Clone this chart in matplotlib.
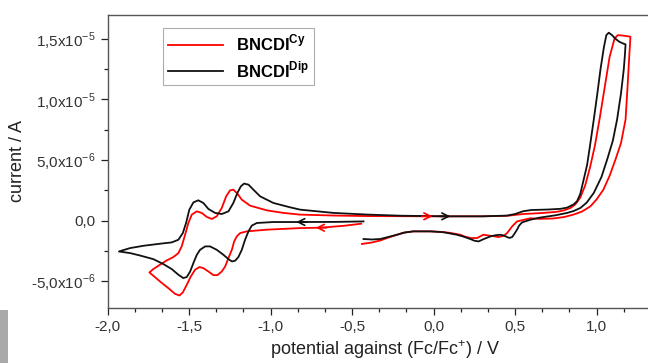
import numpy as np
import matplotlib
matplotlib.use("Agg")
import matplotlib.pyplot as plt
from matplotlib.patches import Rectangle
from matplotlib.ticker import MultipleLocator, FixedLocator, FixedFormatter, FuncFormatter

plt.rcParams['font.family'] = ['Liberation Sans', 'DejaVu Sans']
plt.rcParams['mathtext.fontset'] = 'custom'
plt.rcParams['mathtext.rm'] = 'Liberation Sans'

# BNCDI^Cy : one continuous scan, potential in V, current in uA
# start -0.45 V -> -1.75 V -> +1.2 V -> back to -0.45 V
cy_E = [-0.445, -0.55, -0.696, -0.819, -1.023, -1.146, -1.187, -1.208, -1.224, -1.238,
        -1.259, -1.279, -1.300, -1.327, -1.351, -1.382, -1.413, -1.437, -1.464, -1.490,
        -1.515, -1.539, -1.560, -1.587, -1.628, -1.679, -1.720, -1.744,
        -1.720, -1.679, -1.638, -1.597, -1.566, -1.546, -1.525, -1.505, -1.484, -1.453,
        -1.423, -1.392, -1.361, -1.331, -1.300, -1.273, -1.249, -1.229, -1.204, -1.177,
        -1.126, -1.023, -0.921, -0.819, -0.60, -0.40, 0.0, 0.30, 0.45, 0.55, 0.65, 0.75,
        0.80, 0.84, 0.87, 0.90, 0.93, 0.96, 0.99, 1.02, 1.05, 1.08, 1.11, 1.13, 1.17,
        1.208, 1.205, 1.202, 1.19, 1.178, 1.15, 1.116, 1.08, 1.042, 1.00, 0.962, 0.91,
        0.858, 0.80, 0.735, 0.65, 0.594, 0.512, 0.482, 0.451, 0.43, 0.397, 0.37, 0.348,
        0.305, 0.285, 0.267, 0.225, 0.19, 0.164, 0.10, 0.04, -0.020, -0.125, -0.18,
        -0.225, -0.28, -0.327, -0.38, -0.440]
cy_I = [-0.25, -0.42, -0.58, -0.61, -0.74, -0.88, -1.02, -1.30, -1.71, -2.40,
        -3.08, -3.77, -4.19, -4.49, -4.49, -4.19, -3.91, -3.82, -4.05, -4.60,
        -5.29, -5.92, -6.17, -6.03, -5.56, -5.01, -4.54, -4.27,
        -3.99, -3.63, -3.28, -3.00, -2.67, -2.12, -1.16, -0.19, 0.50, 0.77,
        0.64, 0.31, 0.14, 0.36, 1.05, 2.01, 2.50, 2.56, 2.23, 1.73,
        1.24, 0.85, 0.64, 0.50, 0.42, 0.38, 0.36, 0.36, 0.40, 0.55, 0.62, 0.72,
        0.85, 1.05, 1.35, 1.90, 2.90, 4.40, 6.20, 8.50, 11.0, 13.5, 15.0, 15.3, 15.25,
        15.17, 14.5, 13.88, 11.0, 8.34, 6.40, 5.04, 3.70, 2.56, 1.75, 1.18, 0.75,
        0.50, 0.30, 0.18, 0.15, 0.20, -0.06, -0.47, -1.02, -1.25, -1.35, -1.28, -1.24,
        -1.16, -1.30, -1.43, -1.43, -1.30, -1.16, -1.00, -0.92, -0.88, -0.88, -0.98,
        -1.16, -1.40, -1.63, -1.80, -1.92]

# BNCDI^Dip
dip_E = [-0.430, -0.60, -0.819, -0.983, -1.085, -1.116, -1.136, -1.157, -1.177, -1.198,
         -1.218, -1.238, -1.259, -1.290, -1.331, -1.372, -1.402, -1.433, -1.453, -1.474,
         -1.494, -1.515, -1.536, -1.566, -1.607, -1.658, -1.720, -1.802, -1.863, -1.931,
         -1.863, -1.781, -1.679, -1.607, -1.566, -1.539, -1.519, -1.499, -1.474, -1.444,
         -1.413, -1.382, -1.341, -1.300, -1.259, -1.229, -1.204, -1.183, -1.163, -1.136,
         -1.106, -1.065, -0.983, -0.880, -0.819, -0.614, -0.40, -0.20, 0.08, 0.30, 0.45,
         0.50, 0.55, 0.60, 0.70, 0.78, 0.82, 0.86, 0.88, 0.90, 0.921, 0.942, 0.96, 0.983,
         1.005, 1.024, 1.045, 1.06, 1.075, 1.095, 1.116, 1.14, 1.165, 1.178,
         1.173, 1.167, 1.15, 1.126, 1.10, 1.065, 1.03, 0.983, 0.94, 0.901, 0.86, 0.819,
         0.75, 0.65, 0.594, 0.543, 0.525, 0.512, 0.495, 0.482, 0.465, 0.451, 0.43, 0.410,
         0.38, 0.348, 0.31, 0.276, 0.25, 0.225, 0.18, 0.143, 0.06, -0.020, -0.123, -0.18,
         -0.225, -0.28, -0.327, -0.38, -0.430]
dip_I = [-0.06, -0.10, -0.11, -0.11, -0.19, -0.41, -0.88, -1.57, -2.40, -3.00,
         -3.30, -3.36, -3.17, -2.81, -2.40, -2.12, -2.12, -2.40, -2.81, -3.49,
         -4.19, -4.65, -4.73, -4.46, -3.99, -3.58, -3.17, -2.87, -2.67, -2.54,
         -2.26, -2.07, -1.90, -1.79, -1.57, -1.02, -0.19, 0.91, 1.51, 1.68,
         1.46, 0.97, 0.64, 0.55, 0.77, 1.46, 2.29, 2.83, 3.06, 2.97,
         2.56, 2.01, 1.46, 1.10, 0.91, 0.64, 0.50, 0.41, 0.36, 0.36, 0.42,
         0.55, 0.78, 0.88, 0.92, 0.98, 1.08, 1.35, 1.60, 2.20, 3.39, 4.60, 6.20, 8.34,
         10.5, 12.47, 14.3, 15.3, 15.5, 15.3, 15.0, 14.75, 14.6, 14.54,
         13.5, 12.47, 10.5, 8.34, 6.60, 5.04, 3.60, 2.29, 1.50, 1.05, 0.80, 0.64,
         0.45, 0.25, 0.08, -0.14, -0.40, -0.74, -1.10, -1.35, -1.42, -1.35, -1.22, -1.16,
         -1.20, -1.30, -1.50, -1.71, -1.65, -1.51, -1.30, -1.16, -0.95, -0.88, -0.88, -0.98,
         -1.16, -1.35, -1.51, -1.55, -1.51]

# potentials where the scan-direction arrows sit: [cathodic start, forward scan]
cy_arrow_x = [-0.70, -0.03]
dip_arrow_x = [-0.82, 0.08]

ytick_vals = [-5e-6, 0.0, 5e-6, 1e-5, 1.5e-5]
ytick_labels = [r"-5,0x10$^{\mathregular{-6}}$", "0,0", r"5,0x10$^{\mathregular{-6}}$",
                r"1,0x10$^{\mathregular{-5}}$", r"1,5x10$^{\mathregular{-5}}$"]


def add_arrows(ax, E, I, xs, color):
    E = np.asarray(E)
    I = np.asarray(I) * 1e-6
    # first arrow on the opening (cathodic) part, pointing left
    e, i = E[:5][::-1], I[:5][::-1]
    y0 = np.interp(xs[0], e, i)
    ax.annotate("", xy=(xs[0] - 0.04, y0), xytext=(xs[0] + 0.06, y0),
                arrowprops=dict(arrowstyle="->", color=color, lw=1.2, mutation_scale=12))
    # second arrow on the forward (anodic) flat part, pointing right
    k = np.argmax(E)
    fwd = slice(None, k)
    mask = (E[fwd] > -1.0) & (np.arange(k) > np.argmin(E))
    e, i = E[fwd][mask], I[fwd][mask]
    y1 = np.interp(xs[1], e, i)
    ax.annotate("", xy=(xs[1] + 0.04, y1), xytext=(xs[1] - 0.06, y1),
                arrowprops=dict(arrowstyle="->", color=color, lw=1.2, mutation_scale=12))


fig = plt.figure(figsize=(6.48, 3.63), dpi=100)
ax = fig.add_axes([0.1662, 0.1515, 0.855, 0.8085])

ax.plot(np.array(cy_E), np.array(cy_I) * 1e-6, color="#ff0000", lw=1.3,
        label=r"BNCDI$^{\mathregular{Cy}}$", solid_joinstyle="round")
ax.plot(np.array(dip_E), np.array(dip_I) * 1e-6, color="#111111", lw=1.3,
        label=r"BNCDI$^{\mathregular{Dip}}$", solid_joinstyle="round")
add_arrows(ax, cy_E, cy_I, cy_arrow_x, "#ff0000")
add_arrows(ax, dip_E, dip_I, dip_arrow_x, "#111111")

ax.set_xlim(-2.0, 1.4)
ax.set_ylim(-7.2e-6, 1.7e-5)

ax.xaxis.set_major_locator(MultipleLocator(0.5))
ax.xaxis.set_minor_locator(MultipleLocator(0.5 / 3))
ax.xaxis.set_major_formatter(FuncFormatter(lambda v, p: ("%.1f" % v).replace(".", ",")))
ax.yaxis.set_major_locator(FixedLocator(ytick_vals))
ax.yaxis.set_major_formatter(FixedFormatter(ytick_labels))
ax.yaxis.set_minor_locator(MultipleLocator(2.5e-6))

ax.tick_params(which="both", direction="out", top=False, right=False,
               labelsize=11, colors="#222222", labelcolor="#333333")
ax.tick_params(which="major", length=5, width=0.9)
ax.tick_params(which="minor", length=3, width=0.9)
for s in ax.spines.values():
    s.set_color("#555555")
    s.set_linewidth(1.0)

ax.set_xlabel(r"potential against (Fc/Fc$^{\mathregular{+}}$) / V", fontsize=13,
              color="#222222", labelpad=3)
ax.set_ylabel("current / A", fontsize=13, color="#222222", labelpad=4)

leg = ax.legend(loc="upper left", bbox_to_anchor=(0.085, 0.982),
                prop={"weight": "bold", "size": 12}, frameon=True, fancybox=False,
                handlelength=3.3, borderpad=0.3, labelspacing=0.35, handletextpad=0.8)
leg.get_frame().set_edgecolor("#999999")
leg.get_frame().set_linewidth(0.8)

fig.patches.append(Rectangle((0, 0), 8 / 648, 53 / 363, transform=fig.transFigure,
                             facecolor="#a9a9a9", edgecolor="none"))

fig.savefig("out.png", dpi=100)
